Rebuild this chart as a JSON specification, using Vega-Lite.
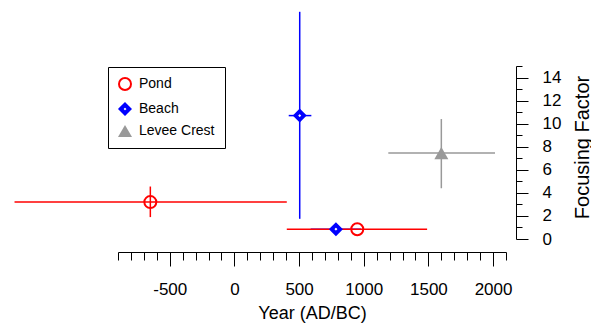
{
  "$schema": "https://vega.github.io/schema/vega-lite/v6.json",
  "width": 388,
  "height": 173,
  "autosize": {"type": "none"},
  "padding": {"left": 118, "top": 66, "right": 85, "bottom": 84},
  "background": "white",
  "config": {
    "view": {"stroke": null},
    "font": "Liberation Sans",
    "legend": {
      "orient": "none",
      "legendX": -10,
      "legendY": 1,
      "strokeColor": "black",
      "fillColor": "white",
      "padding": 10,
      "labelFont": "Liberation Sans",
      "labelFontSize": 14,
      "labelColor": "black",
      "labelOffset": 7,
      "rowPadding": 2
    }
  },
  "data": {
    "values": [
      {"series": "Beach", "x": 505, "y": 10.7, "xmin": 420, "xmax": 595, "ymin": 1.75, "ymax": 19.7},
      {"series": "Beach", "x": 785, "y": 0.85, "xmin": 590, "xmax": 980, "ymin": 0.85, "ymax": 0.85},
      {"series": "Levee Crest", "x": 1600, "y": 7.45, "xmin": 1190, "xmax": 2015, "ymin": 4.4, "ymax": 10.4},
      {"series": "Pond", "x": -650, "y": 3.2, "xmin": -1700, "xmax": 405, "ymin": 1.9, "ymax": 4.55},
      {"series": "Pond", "x": 950, "y": 0.85, "xmin": 405, "xmax": 1490, "ymin": 0.85, "ymax": 0.85}
    ]
  },
  "layer": [
    {
      "mark": {"type": "rule", "strokeWidth": 1.5, "clip": false},
      "encoding": {
        "x": {"field": "xmin", "type": "quantitative", "scale": {"domain": [-900, 2100], "nice": false, "zero": false}},
        "x2": {"field": "xmax"},
        "y": {"field": "y", "type": "quantitative", "scale": {"domain": [0, 15], "nice": false, "zero": false}},
        "stroke": {"field": "series", "type": "nominal", "title": null, "scale": {"domain": ["Pond", "Beach", "Levee Crest"], "range": ["#ff0000", "#0000ff", "#999999"]},
          "legend": {"encode": {"symbols": {"update": {"size": {"signal": "datum.value === 'Beach' ? 100 : (datum.value === 'Pond' ? 225 : 256)"}}}}}}
      }
    },
    {
      "mark": {"type": "rule", "strokeWidth": 1.5, "clip": false},
      "encoding": {
        "x": {"field": "x", "type": "quantitative"},
        "y": {"field": "ymin", "type": "quantitative"},
        "y2": {"field": "ymax"},
        "stroke": {"field": "series", "type": "nominal", "title": null}
      }
    },
    {
      "mark": {"type": "point", "opacity": 1, "filled": false, "clip": false},
      "encoding": {
        "x": {
          "field": "x", "type": "quantitative",
          "axis": {
            "orient": "bottom", "offset": 13, "grid": false, "tickCount": 100,
            "values": [-900, -800, -700, -600, -500, -400, -300, -200, -100, 0, 100, 200, 300, 400, 500, 600, 700, 800, 900, 1000, 1100, 1200, 1300, 1400, 1500, 1600, 1700, 1800, 1900, 2000, 2100],
            "tickSize": {"condition": {"test": "datum.value % 500 === 0", "value": 14}, "value": 8},
            "tickColor": "black", "tickWidth": 1, "domainColor": "black", "domainWidth": 1,
            "labelExpr": "datum.value % 500 === 0 ? '' + datum.value : ''",
            "labelFont": "Liberation Sans", "labelFontSize": 17, "labelColor": "black",
            "labelPadding": 15, "labelOverlap": false, "labelFlush": false, "labelBound": false,
            "title": "Year (AD/BC)", "titleFont": "Liberation Sans", "titleFontSize": 18, "titleFontWeight": "normal", "titleColor": "black",
            "titleX": 194, "titleY": 66, "titleAlign": "center", "titleBaseline": "alphabetic", "titleAnchor": null
          }
        },
        "y": {
          "field": "y", "type": "quantitative",
          "axis": {
            "orient": "right", "offset": 10, "grid": false, "tickCount": 100,
            "values": [0, 1, 2, 3, 4, 5, 6, 7, 8, 9, 10, 11, 12, 13, 14, 15],
            "tickSize": {"condition": {"test": "datum.value % 2 === 0", "value": 12}, "value": 6},
            "tickColor": "black", "tickWidth": 1, "domainColor": "black", "domainWidth": 1,
            "labelExpr": "datum.value % 2 === 0 ? '' + datum.value : ''",
            "labelFont": "Liberation Sans", "labelFontSize": 17, "labelColor": "black",
            "labelPadding": 14, "labelOverlap": false, "labelFlush": false, "labelBound": false,
            "labelAlign": "left", "labelBaseline": "middle",
            "title": "Focusing Factor", "titleFont": "Liberation Sans", "titleFontSize": 20, "titleFontWeight": "normal", "titleColor": "black",
            "titleAngle": 270, "titleX": 72, "titleY": 81, "titleAlign": "center", "titleBaseline": "alphabetic", "titleAnchor": null
          }
        },
        "shape": {"field": "series", "type": "nominal", "title": null, "scale": {"domain": ["Pond", "Beach", "Levee Crest"], "range": ["circle", "diamond", "triangle-up"]},
          "legend": {"encode": {"symbols": {"update": {"size": {"signal": "datum.value === 'Beach' ? 100 : (datum.value === 'Pond' ? 225 : 256)"}}}}}},
        "stroke": {"field": "series", "type": "nominal", "title": null,
          "legend": {"encode": {"symbols": {"update": {"size": {"signal": "datum.value === 'Beach' ? 100 : (datum.value === 'Pond' ? 225 : 256)"}}}}}},
        "fill": {"field": "series", "type": "nominal", "title": null, "scale": {"domain": ["Pond", "Beach", "Levee Crest"], "range": ["transparent", "#ffffff", "#999999"]},
          "legend": {"encode": {"symbols": {"update": {"size": {"signal": "datum.value === 'Beach' ? 100 : (datum.value === 'Pond' ? 225 : 256)"}}}}}},
        "size": {
          "field": "series", "type": "nominal", "title": null,
          "scale": {"type": "ordinal", "domain": ["Pond", "Beach", "Levee Crest"], "range": [144, 72, 196]},
          "legend": {"encode": {"symbols": {"update": {"size": {"signal": "datum.value === 'Beach' ? 100 : (datum.value === 'Pond' ? 225 : 256)"}}}}}
        },
        "strokeWidth": {"field": "series", "type": "nominal", "title": null, "scale": {"type": "ordinal", "domain": ["Pond", "Beach", "Levee Crest"], "range": [2, 3.9, 0]},
          "legend": {"encode": {"symbols": {"update": {"size": {"signal": "datum.value === 'Beach' ? 100 : (datum.value === 'Pond' ? 225 : 256)"}}}}}}
      }
    }
  ]
}
